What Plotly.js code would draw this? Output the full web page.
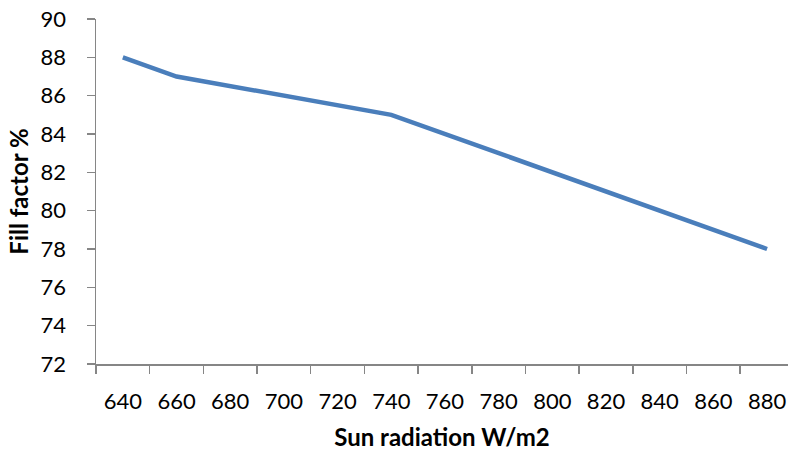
<!DOCTYPE html>
<html>
<head>
<meta charset="utf-8">
<script src="https://cdn.plot.ly/plotly-3.0.1.min.js"></script>
<style>html,body{margin:0;padding:0;background:#fff;}#chart{width:788px;height:452px;}</style>
</head>
<body>
<div id="chart"></div>
<script>
const categories = ["640","660","680","700","720","740","760","780","800","820","840","860","880"];
const radiation = ["640","660","740","880"];
const fillFactor = [88, 87, 85, 78];
const yTicks = [72, 74, 76, 78, 80, 82, 84, 86, 88, 90];

const FONT = "Lato, 'Open Sans', sans-serif";
const AXIS = "#868686";

Plotly.newPlot("chart", [{
  x: radiation,
  y: fillFactor,
  type: "scatter",
  mode: "lines",
  line: {color: "#4A7EBB", width: 4.5},
  hoverinfo: "skip"
}], {
  width: 788, height: 452,
  margin: {l: 96, r: 0, t: 19, b: 88},
  paper_bgcolor: "#fff", plot_bgcolor: "#fff",
  showlegend: false,
  font: {family: FONT, color: "#000", size: 22},
  xaxis: {
    type: "category",
    categoryorder: "array",
    categoryarray: categories,
    range: [-0.5, 12.39],
    tickson: "boundaries",
    ticks: "outside", ticklen: 8, tickwidth: 1.5, tickcolor: AXIS,
    showline: true, linecolor: AXIS, linewidth: 1.5,
    showgrid: false, zeroline: false,
    tickfont: {family: FONT, size: 22},
    ticklabelstandoff: 17,
    title: {text: "<b>Sun radiation W/m2</b>", font: {family: FONT, size: 24}, standoff: 16}
  },
  yaxis: {
    range: [72, 90],
    tickvals: yTicks,
    ticks: "outside", ticklen: 8, tickwidth: 1.5, tickcolor: AXIS,
    showline: true, linecolor: AXIS, linewidth: 1.5,
    showgrid: false, zeroline: false,
    tickfont: {family: FONT, size: 22},
    ticklabelstandoff: 16,
    title: {text: "<b>Fill factor %</b>", font: {family: FONT, size: 24}, standoff: 5}
  }
}, {staticPlot: true, displayModeBar: false});
</script>
</body>
</html>
